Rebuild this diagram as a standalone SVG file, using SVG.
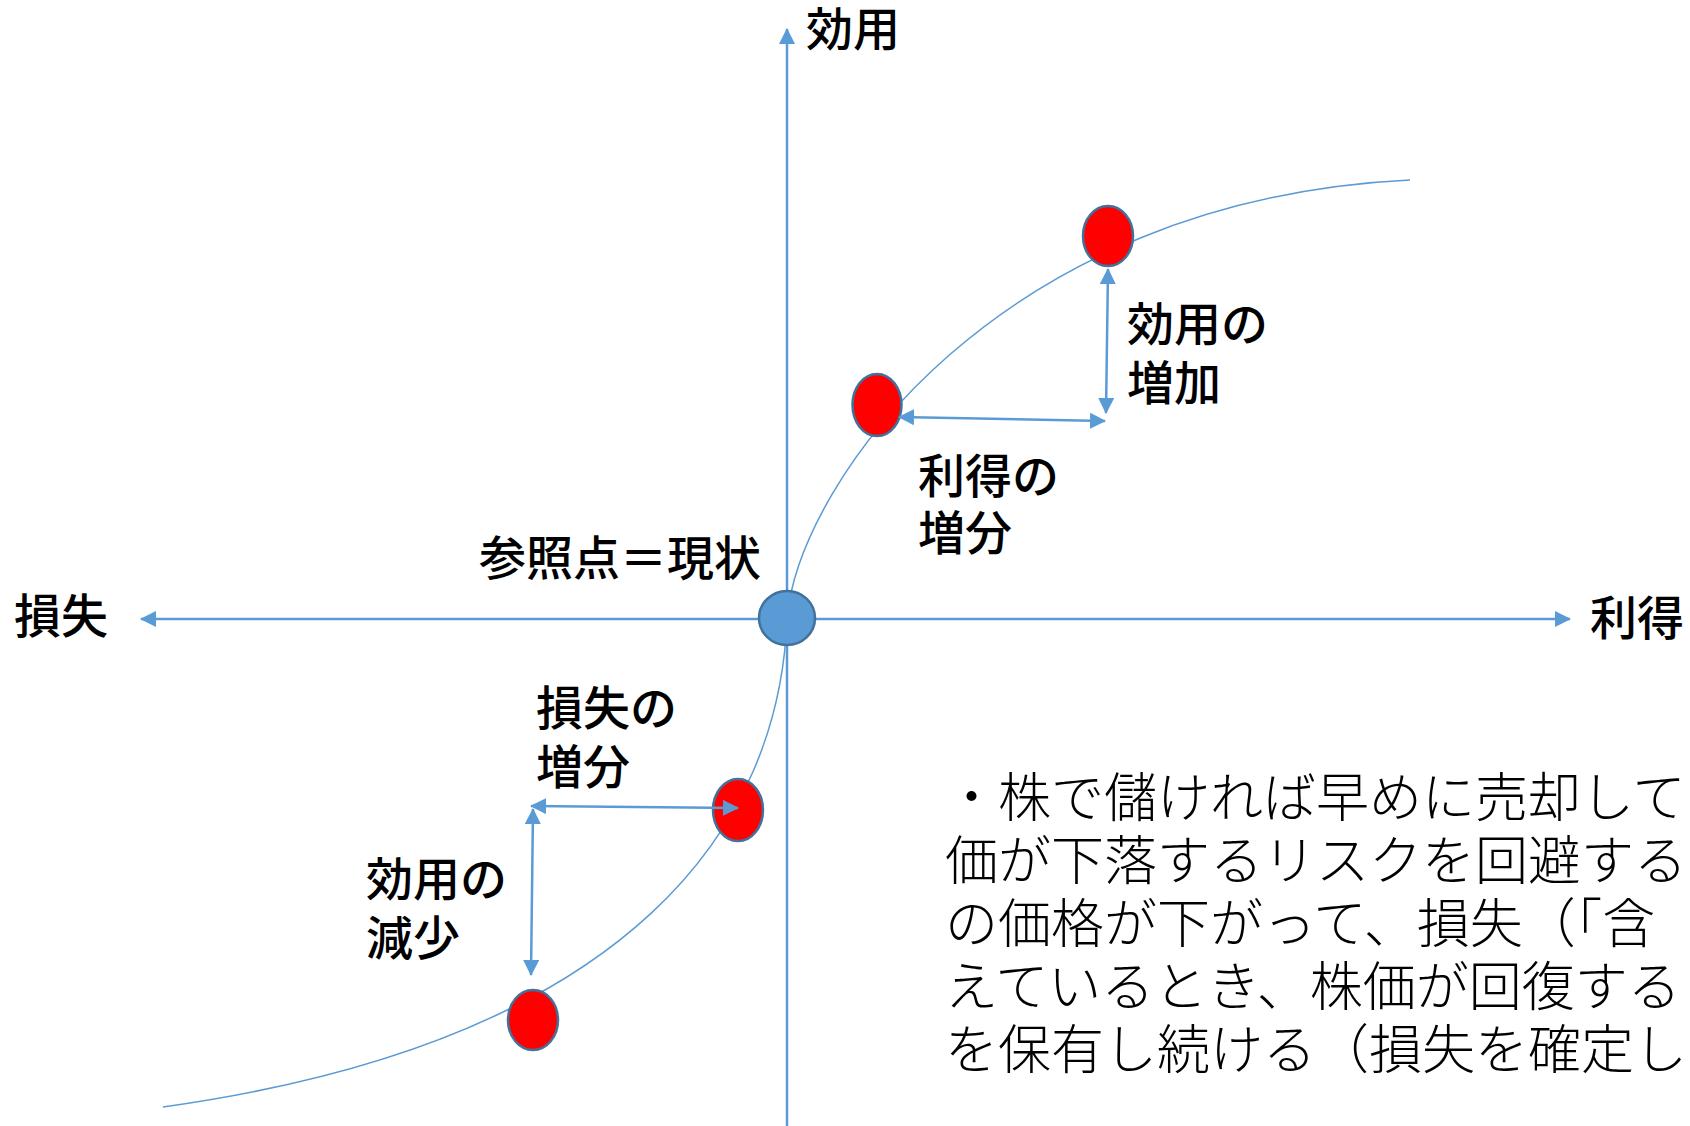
<svg xmlns="http://www.w3.org/2000/svg" width="1690" height="1126" viewBox="0 0 1690 1126">
<style>
.ax{stroke:#5B9BD5;stroke-width:2.5;fill:none}
.cv{stroke:#5B9BD5;stroke-width:1.5;fill:none}
.red{fill:#FF0000;stroke:#41719C;stroke-width:2.5}
.org{fill:#5B9BD5;stroke:#41719C;stroke-width:2.5}
.lb{font-family:"Noto Sans CJK JP","Noto Sans",sans-serif;font-size:47px;font-weight:500;fill:#000}
.body{font-family:"Noto Sans CJK JP","Noto Sans",sans-serif;font-size:53px;font-weight:300;fill:#000}
</style>
<defs>
<marker id="ah" viewBox="0 0 16 16" refX="15" refY="8" markerWidth="16" markerHeight="16" orient="auto-start-reverse" markerUnits="userSpaceOnUse">
<path d="M0,0 L16,8 L0,16 z" fill="#5B9BD5"/>
</marker>
</defs>
<rect width="1690" height="1126" fill="#fff"/>
<g id="connectors">
<line class="ax" x1="787" y1="1126" x2="787" y2="29" marker-end="url(#ah)"/>
<line class="ax" x1="141" y1="619" x2="1570" y2="619" marker-start="url(#ah)" marker-end="url(#ah)"/>
<path class="cv" d="M787,618 C800,480 1000,200 1410,180"/>
<path class="cv" d="M787,618 C780,820 640,1040 163,1107"/>
</g>
<g id="node-origin"><ellipse class="org" cx="787" cy="618" rx="28" ry="27"/></g>
<g id="node-gain2"><ellipse class="red" cx="1108" cy="236" rx="25" ry="30"/></g>
<g id="node-gain1"><ellipse class="red" cx="877" cy="405" rx="24.5" ry="31"/></g>
<g id="node-loss1"><ellipse class="red" cx="738" cy="810" rx="25" ry="31"/></g>
<g id="node-loss2"><ellipse class="red" cx="533" cy="1020" rx="25" ry="30"/></g>
<g id="measure-arrows">
<line class="ax" x1="1108" y1="269" x2="1106" y2="413" marker-start="url(#ah)" marker-end="url(#ah)"/>
<line class="ax" x1="899" y1="417" x2="1105" y2="421" marker-start="url(#ah)" marker-end="url(#ah)"/>
<line class="ax" x1="531" y1="806" x2="738" y2="808" marker-start="url(#ah)" marker-end="url(#ah)"/>
<line class="ax" x1="533" y1="809" x2="531" y2="975" marker-start="url(#ah)" marker-end="url(#ah)"/>
</g>
<g id="labels">
<text class="lb" x="806" y="46">効用</text>
<text class="lb" x="14" y="633">損失</text>
<text class="lb" x="1590" y="635">利得</text>
<text class="lb" x="479" y="575">参照点＝現状</text>
<text class="lb" x="1127" y="341">効用の</text>
<text class="lb" x="1127" y="400">増加</text>
<text class="lb" x="918" y="493">利得の</text>
<text class="lb" x="918" y="550">増分</text>
<text class="lb" x="536" y="725">損失の</text>
<text class="lb" x="536" y="784">増分</text>
<text class="lb" x="366" y="896">効用の</text>
<text class="lb" x="366" y="955">減少</text>
</g>
<g id="note">
<text class="body" x="945" y="817">・株で儲ければ早めに売却して</text>
<text class="body" x="945" y="880">価が下落するリスクを回避する</text>
<text class="body" x="945" y="943">の価格が下がって、損失（「含</text>
<text class="body" x="945" y="1006">えているとき、株価が回復する</text>
<text class="body" x="945" y="1069">を保有し続ける（損失を確定し</text>
</g>
</svg>
